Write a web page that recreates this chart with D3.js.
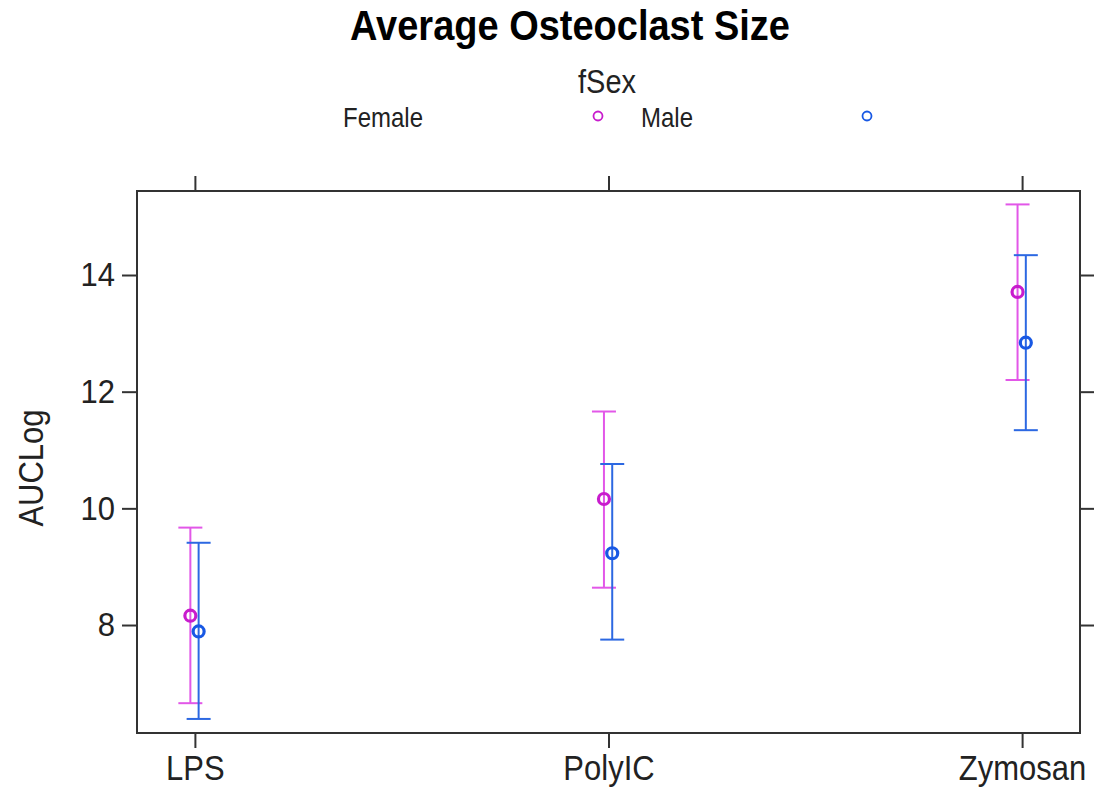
<!DOCTYPE html>
<html>
<head>
<meta charset="utf-8">
<script src="https://cdn.jsdelivr.net/npm/d3@7"></script>
<style>
  body { margin: 0; background: #fff; }
  svg { display: block; font-family: "Liberation Sans", Arial, sans-serif; }
</style>
</head>
<body>
<svg></svg>
<script>
var width = 1094, height = 795;

// data
var categories = ['LPS', 'PolyIC', 'Zymosan'];
var groups = ['Female', 'Male'];
var femaleMean = [8.16, 10.16, 13.71];
var femaleLower = [6.66, 8.64, 12.20];
var femaleUpper = [9.67, 11.66, 15.21];
var maleMean = [7.89, 9.23, 12.84];
var maleLower = [6.39, 7.75, 11.34];
var maleUpper = [9.41, 10.76, 14.34];
var dodge = [-0.011, 0.009];
var yTicks = [8, 10, 12, 14];

var lineColors = ['#e257e8', '#2c68e2'];
var pointColors = ['#c81ccd', '#1858e4'];

var margin = {top: 191, right: 14, bottom: 62, left: 137};

var svg = d3.select('svg')
    .attr('width', width)
    .attr('height', height);

var x = d3.scaleLinear()
    .domain([0.86, 3.14])
    .range([margin.left, width - margin.right]);

var y = d3.scaleLinear()
    .domain([6.149, 15.44])
    .range([height - margin.bottom, margin.top]);

var series = [
  {name: groups[0], mean: femaleMean, lo: femaleLower, hi: femaleUpper},
  {name: groups[1], mean: maleMean, lo: maleLower, hi: maleUpper}
];

// title + legend (text in the source is a bit taller than Arial, so stretch it)
function tall(sel, cx, cy) {
  return sel.attr('transform', 'translate(' + cx + ',' + cy + ') scale(1,1.12)');
}

tall(svg.append('text'), 570, 40)
    .attr('text-anchor', 'middle')
    .attr('font-size', 38).attr('font-weight', 'bold')
    .text('Average Osteoclast Size');

tall(svg.append('text'), 607, 93)
    .attr('text-anchor', 'middle')
    .attr('font-size', 29)
    .attr('fill', '#222')
    .text('fSex');

var legendX = [343, 641];
var legendDot = [598, 867];
groups.forEach(function(g, i) {
  tall(svg.append('text'), legendX[i], 127)
      .attr('font-size', 24)
      .attr('fill', '#222')
      .text(g);
  svg.append('circle')
      .attr('cx', legendDot[i]).attr('cy', 116)
      .attr('r', 4.5)
      .attr('fill', 'none')
      .attr('stroke', pointColors[i])
      .attr('stroke-width', 1.8);
});

// axes
var frameColor = '#333';
svg.append('g')
    .attr('transform', 'translate(' + margin.left + ',0)')
    .call(d3.axisLeft(y).tickValues(yTicks).tickSize(15).tickPadding(7).tickFormat(d3.format('d')));
svg.append('g')
    .attr('transform', 'translate(' + (width - margin.right) + ',0)')
    .call(d3.axisRight(y).tickValues(yTicks).tickSize(14).tickFormat(''));
svg.append('g')
    .attr('class', 'xaxis')
    .attr('transform', 'translate(0,' + (height - margin.bottom) + ')')
    .call(d3.axisBottom(x).tickValues([1, 2, 3]).tickSize(15).tickPadding(10)
      .tickFormat(function(d) { return categories[d - 1]; }));
svg.append('g')
    .attr('transform', 'translate(0,' + margin.top + ')')
    .call(d3.axisTop(x).tickValues([1, 2, 3]).tickSize(15).tickFormat(''));

svg.selectAll('.domain').remove();
svg.selectAll('.tick line').attr('stroke', frameColor).attr('stroke-width', 2);
svg.selectAll('.tick text')
    .attr('font-size', 31)
    .attr('fill', '#222')
    .attr('font-family', '"Liberation Sans", Arial, sans-serif')
    .attr('transform', 'scale(1,1.1)');
svg.selectAll('.xaxis .tick text').attr('transform', 'translate(0,-6) scale(1,1.12)');

svg.append('rect')
    .attr('x', margin.left).attr('y', margin.top)
    .attr('width', width - margin.right - margin.left)
    .attr('height', height - margin.bottom - margin.top)
    .attr('fill', 'none')
    .attr('stroke', frameColor)
    .attr('stroke-width', 2);

svg.append('text')
    .attr('transform', 'translate(43,' + ((margin.top + height - margin.bottom) / 2 + 6) + ') rotate(-90) scale(1,1.12)')
    .attr('text-anchor', 'middle')
    .attr('font-size', 31)
    .attr('fill', '#222')
    .text('AUCLog');

// error bars and points
var capHalf = 12;
series.forEach(function(s, i) {
  var g = svg.append('g');
  var rows = categories.map(function(c, k) {
    return {k: k + 1, mean: s.mean[k], lo: s.lo[k], hi: s.hi[k]};
  });
  var cx = function(d) { return x(d.k + dodge[i]); };

  g.selectAll('line.stem').data(rows).enter().append('line')
      .attr('x1', cx).attr('x2', cx)
      .attr('y1', function(d) { return y(d.lo); })
      .attr('y2', function(d) { return y(d.hi); })
      .attr('stroke', lineColors[i]).attr('stroke-width', 2);
  ['lo', 'hi'].forEach(function(key) {
    g.selectAll('line.cap-' + key).data(rows).enter().append('line')
        .attr('x1', function(d) { return cx(d) - capHalf; })
        .attr('x2', function(d) { return cx(d) + capHalf; })
        .attr('y1', function(d) { return y(d[key]); })
        .attr('y2', function(d) { return y(d[key]); })
        .attr('stroke', lineColors[i]).attr('stroke-width', 2);
  });
  g.selectAll('circle').data(rows).enter().append('circle')
      .attr('cx', cx)
      .attr('cy', function(d) { return y(d.mean); })
      .attr('r', 5.5)
      .attr('fill', 'none')
      .attr('stroke', pointColors[i])
      .attr('stroke-width', 3.2);
});
</script>
</body>
</html>
